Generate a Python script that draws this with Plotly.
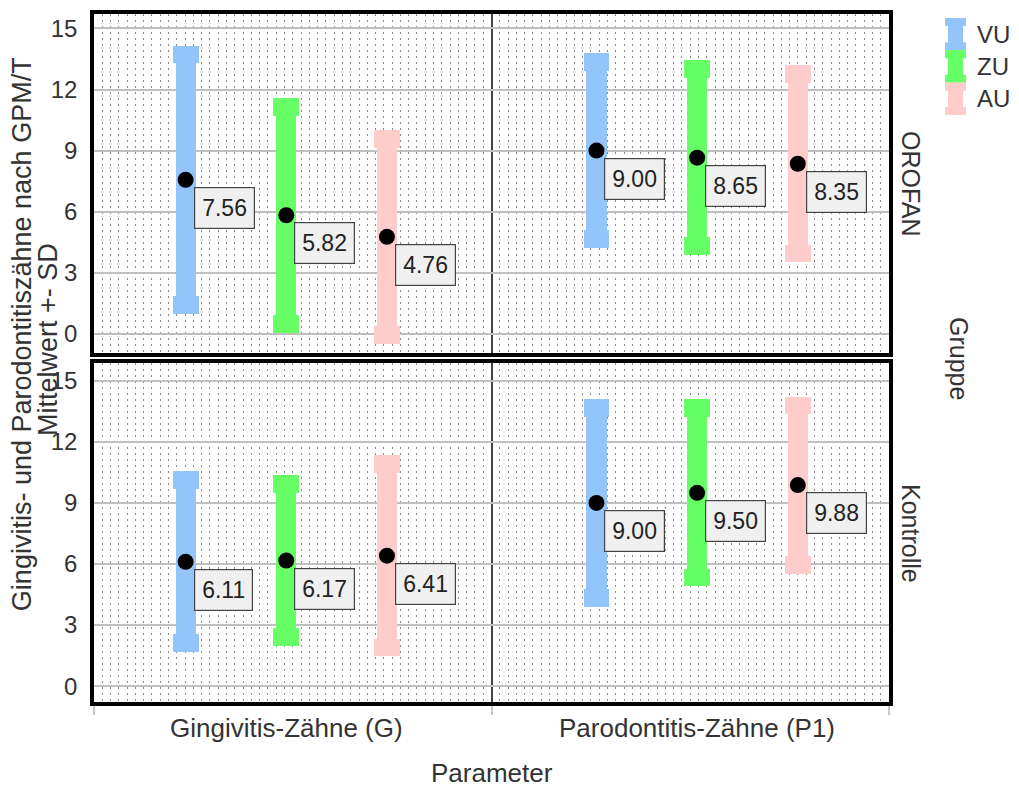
import plotly.graph_objects as go
from plotly.subplots import make_subplots

# ---- data -------------------------------------------------------------
categories = ["Gingivitis-Zähne (G)", "Parodontitis-Zähne (P1)"]
groups = ["OROFAN", "Kontrolle"]
series = ["VU", "ZU", "AU"]
colors = ["#93c4fa", "#66ff66", "#ffcccc"]

# rows: VU, ZU, AU ; columns: categories
orofan_means = [[7.56, 9.00], [5.82, 8.65], [4.76, 8.35]]
orofan_sds = [[6.60, 4.80], [5.78, 4.80], [5.25, 4.85]]
kontrolle_means = [[6.11, 9.00], [6.17, 9.50], [6.41, 9.88]]
kontrolle_sds = [[4.45, 5.10], [4.20, 4.60], [4.95, 4.35]]

y_ticks = [0, 3, 6, 9, 12, 15]

# ---- layout constants -------------------------------------------------
W, H = 1019, 787
ML, MR, MT, MB = 94, 130, 10, 85
PW, PH = W - ML - MR, H - MT - MB

x_range = [-0.468, 1.467]
y_range_top = [-0.95, 15.71]
y_range_bottom = [-0.78, 15.88]
offsets = [-0.245, 0.0, 0.245]
body_w, cap_w, cap_h = 0.049, 0.063, 0.88
font_family = "Liberation Sans, Arial, sans-serif"
text_color = "#333333"


def px_x(p):
    return (p - ML) / PW


def px_y(p):
    return (H - MB - p) / PH


fig = make_subplots(rows=2, cols=1, shared_xaxes=True, vertical_spacing=0.0144)

panels = [(orofan_means, orofan_sds), (kontrolle_means, kontrolle_sds)]
for r, (means, sds) in enumerate(panels, start=1):
    for s, name in enumerate(series):
        xs = [c + offsets[s] for c in range(len(categories))]
        lo = [m - d for m, d in zip(means[s], sds[s])]
        hi = [m + d for m, d in zip(means[s], sds[s])]
        bar_style = dict(marker=dict(color=colors[s], line=dict(width=0)),
                         showlegend=False, hoverinfo="skip")
        # SD bar body
        fig.add_trace(go.Bar(x=xs, base=lo, y=[h - l for h, l in zip(hi, lo)],
                             width=body_w, **bar_style), row=r, col=1)
        # wider end caps
        fig.add_trace(go.Bar(x=xs, base=[h - cap_h for h in hi], y=[cap_h] * len(xs),
                             width=cap_w, **bar_style), row=r, col=1)
        fig.add_trace(go.Bar(x=xs, base=lo, y=[cap_h] * len(xs),
                             width=cap_w, **bar_style), row=r, col=1)

    # mean points with value boxes
    for s, name in enumerate(series):
        xs = [c + offsets[s] for c in range(len(categories))]
        fig.add_trace(go.Scatter(x=xs, y=means[s], mode="markers",
                                 marker=dict(color="black", size=16),
                                 showlegend=False, name=name), row=r, col=1)
        for xv, mv in zip(xs, means[s]):
            fig.add_annotation(x=xv, y=mv, text=f"{mv:.2f}", showarrow=False,
                               xanchor="left", yanchor="top", xshift=8, yshift=-7,
                               bgcolor="#f0f0f0", bordercolor="#444444",
                               borderwidth=1.2, borderpad=7,
                               font=dict(size=23, color="#222222"),
                               row=r, col=1)

# ---- axes -------------------------------------------------------------
fig.update_xaxes(
    range=x_range,
    tickvals=[x_range[0], 0.5, x_range[1]],
    showticklabels=False, ticks="",
    showgrid=True, gridcolor="#444444", gridwidth=2,
    zeroline=False,
    showline=True, mirror=True, linecolor="black", linewidth=3.5,
    minor=dict(tick0=x_range[0], dtick=(x_range[1] - x_range[0]) / 96,
               showgrid=True, gridcolor="#8a8a8a", gridwidth=1,
               griddash="2px,4px", ticks=""),
)
fig.update_xaxes(ticks="outside", ticklen=9, tickcolor="#c8c8c8", tickwidth=1.5,
                 row=2, col=1)
fig.update_yaxes(
    tickvals=y_ticks,
    showgrid=True, gridcolor="#c0c0c0", gridwidth=1.5,
    zeroline=False,
    showline=True, mirror=True, linecolor="black", linewidth=3.5,
    ticks="", ticklabelstandoff=8,
    tickfont=dict(size=24, color=text_color),
)
fig.update_yaxes(range=y_range_top, row=1, col=1)
fig.update_yaxes(range=y_range_bottom, row=2, col=1)
fig.update_layout(yaxis=dict(domain=[0.5072, 1.0]), yaxis2=dict(domain=[0.0, 0.4928]))

# ---- text -------------------------------------------------------------
ann = []
for i, cat in enumerate(categories):
    ann.append(dict(x=i, xref="x2", y=px_y(728), yref="paper", text=cat,
                    font=dict(size=26)))
ann.append(dict(x=0.5, xref="paper", y=px_y(773), yref="paper", text="Parameter",
                font=dict(size=26)))
ann.append(dict(x=px_x(22), xref="paper", y=px_y(332), yref="paper",
                text="Gingivitis- und Parodontitiszähne nach GPM/T",
                textangle=-90, font=dict(size=27)))
ann.append(dict(x=px_x(48), xref="paper", y=px_y(338), yref="paper",
                text="Mittelwert +- SD", textangle=-90, font=dict(size=27)))
for g, yc in zip(groups, [181, 532]):
    ann.append(dict(x=px_x(911), xref="paper", y=px_y(yc), yref="paper", text=g,
                    textangle=90, font=dict(size=25)))
ann.append(dict(x=px_x(959), xref="paper", y=px_y(356), yref="paper", text="Gruppe",
                textangle=90, font=dict(size=25)))

# ---- legend (capped bar icons) ----------------------------------------
shapes = []
icon_cx, icon_top, icon_h = 955.5, 14, 32.5
for s, name in enumerate(series):
    top = icon_top + s * icon_h
    bot = top + icon_h
    for (x0, x1, y0, y1) in [(icon_cx - 7.5, icon_cx + 7.5, top, bot),
                             (icon_cx - 10.5, icon_cx + 10.5, top, top + 8),
                             (icon_cx - 10.5, icon_cx + 10.5, bot - 8, bot)]:
        shapes.append(dict(type="rect", xref="paper", yref="paper",
                           x0=px_x(x0), x1=px_x(x1), y0=px_y(y1), y1=px_y(y0),
                           fillcolor=colors[s], line=dict(width=0)))
    ann.append(dict(x=px_x(975), xref="paper", y=px_y((top + bot) / 2), yref="paper",
                    text=name, xanchor="left", font=dict(size=24)))

fig.update_layout(
    width=W, height=H,
    margin=dict(l=ML, r=MR, t=MT, b=MB),
    paper_bgcolor="white", plot_bgcolor="white",
    font=dict(family=font_family, size=24, color=text_color),
    barmode="overlay", bargap=0,
    showlegend=False,
    shapes=shapes,
)
for a in ann:
    a.setdefault("xanchor", "center")
    a.setdefault("yanchor", "middle")
    fig.add_annotation(showarrow=False, **a)

fig.write_html("out.html")
